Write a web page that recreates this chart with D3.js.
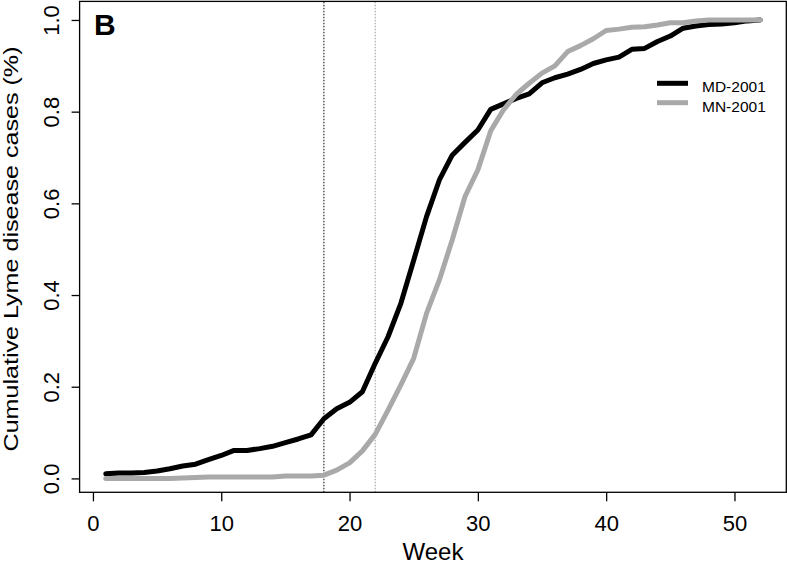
<!DOCTYPE html>
<html>
<head>
<meta charset="utf-8">
<script src="https://cdn.jsdelivr.net/npm/d3@7"></script>
<style>
  html, body { margin: 0; padding: 0; background: #fff; }
  svg { display: block; font-family: "Liberation Sans", Arial, sans-serif; }
</style>
</head>
<body>
<svg id="chart" width="787" height="564"></svg>
<script>
const weeks = d3.range(1, 53);
const mdValues = [
  0.010, 0.012, 0.012, 0.013, 0.016, 0.021, 0.027, 0.031, 0.041, 0.050,
  0.061, 0.061, 0.065, 0.070, 0.078, 0.086, 0.095, 0.130, 0.152, 0.166,
  0.189, 0.251, 0.309, 0.382, 0.476, 0.571, 0.651, 0.705, 0.733, 0.760,
  0.805, 0.817, 0.829, 0.839, 0.863, 0.874, 0.882, 0.892, 0.905, 0.913,
  0.919, 0.936, 0.938, 0.953, 0.965, 0.982, 0.987, 0.990, 0.991, 0.994,
  0.998, 1.000
];
const mnValues = [
  0.000, 0.000, 0.000, 0.000, 0.000, 0.000, 0.001, 0.002, 0.003, 0.003,
  0.003, 0.003, 0.003, 0.003, 0.005, 0.005, 0.005, 0.007, 0.018, 0.034,
  0.060, 0.096, 0.149, 0.204, 0.262, 0.360, 0.433, 0.520, 0.615, 0.673,
  0.758, 0.804, 0.838, 0.862, 0.884, 0.900, 0.931, 0.944, 0.959, 0.977,
  0.980, 0.984, 0.985, 0.989, 0.994, 0.994, 0.998, 1.000, 1.000, 1.000,
  1.000, 1.000
];
const seriesNames = ["MD-2001", "MN-2001"];
const seriesColors = ["#000000", "#a9a9a9"];
const xTicks = [0, 10, 20, 30, 40, 50];
const yTicks = [0.0, 0.2, 0.4, 0.6, 0.8, 1.0];
const markerWeeks = [18, 22];
const markerColors = ["#000000", "#999999"];
const panelLabel = "B";
const xTitle = "Week";
const yTitle = "Cumulative Lyme disease cases (%)";

const svg = d3.select("#chart");
const x = d3.scaleLinear().domain([-1.04, 54.04]).range([79.6, 786.3]);
const y = d3.scaleLinear().domain([-0.0303, 1.0405]).range([492.3, 1.4]);

// vertical dotted marker lines
svg.selectAll(".marker").data(markerWeeks).enter().append("line")
  .attr("x1", d => x(d)).attr("x2", d => x(d))
  .attr("y1", y.range()[0]).attr("y2", y.range()[1])
  .attr("stroke", (d, i) => markerColors[i])
  .attr("stroke-width", 1)
  .attr("stroke-dasharray", "1.5,1.5");

// series lines
const series = [mdValues, mnValues];
const line = d3.line().x((d, i) => x(weeks[i])).y(d => y(d));
series.forEach((vals, i) => {
  svg.append("path")
    .datum(vals)
    .attr("d", line)
    .attr("fill", "none")
    .attr("stroke", seriesColors[i])
    .attr("stroke-width", 5)
    .attr("stroke-linejoin", "round")
    .attr("stroke-linecap", "round");
});

// box
svg.append("rect")
  .attr("x", x.range()[0]).attr("y", y.range()[1])
  .attr("width", x.range()[1] - x.range()[0])
  .attr("height", y.range()[0] - y.range()[1])
  .attr("fill", "none").attr("stroke", "#000").attr("stroke-width", 1.3);

// x axis
const xAxis = svg.append("g")
  .attr("transform", `translate(0,${y.range()[0]})`)
  .call(d3.axisBottom(x).tickValues(xTicks).tickSize(9).tickFormat(d3.format("d")));
xAxis.select(".domain").remove();
xAxis.selectAll(".tick line").attr("stroke", "#000").attr("stroke-width", 1.3);
xAxis.selectAll(".tick text").attr("y", 38.7).attr("dy", 0)
  .attr("font-size", 22).attr("fill", "#000")
  .attr("font-family", "Liberation Sans, Arial, sans-serif");

// y axis
const yAxis = svg.append("g")
  .attr("transform", `translate(${x.range()[0]},0)`)
  .call(d3.axisLeft(y).tickValues(yTicks).tickSize(8).tickFormat(d3.format(".1f")));
yAxis.select(".domain").remove();
yAxis.selectAll(".tick line").attr("stroke", "#000").attr("stroke-width", 1.3);
yAxis.selectAll(".tick text")
  .attr("x", 0).attr("y", -21).attr("dy", 0)
  .attr("transform", "rotate(-90)")
  .attr("text-anchor", "middle")
  .attr("font-size", 22).attr("fill", "#000")
  .attr("font-family", "Liberation Sans, Arial, sans-serif");

// axis titles
svg.append("text")
  .attr("x", (x.range()[0] + x.range()[1]) / 2).attr("y", 560)
  .attr("text-anchor", "middle").attr("font-size", 24)
  .text(xTitle);
svg.append("text")
  .attr("transform", `translate(18,249) rotate(-90)`)
  .attr("text-anchor", "middle").attr("font-size", 21)
  .attr("textLength", 405).attr("lengthAdjust", "spacingAndGlyphs")
  .text(yTitle);

// panel label
svg.append("text")
  .attr("x", 94).attr("y", 35)
  .attr("font-size", 30).attr("font-weight", "bold")
  .text(panelLabel);

// legend
const legend = svg.append("g");
seriesNames.forEach((name, i) => {
  const ly = 83.3 + i * 19.4;
  legend.append("line")
    .attr("x1", 657).attr("x2", 688)
    .attr("y1", ly).attr("y2", ly)
    .attr("stroke", seriesColors[i]).attr("stroke-width", 5);
  legend.append("text")
    .attr("x", 702).attr("y", ly + 9)
    .attr("font-size", 15.5).attr("fill", "#000")
    .text(name);
});
</script>
</body>
</html>
